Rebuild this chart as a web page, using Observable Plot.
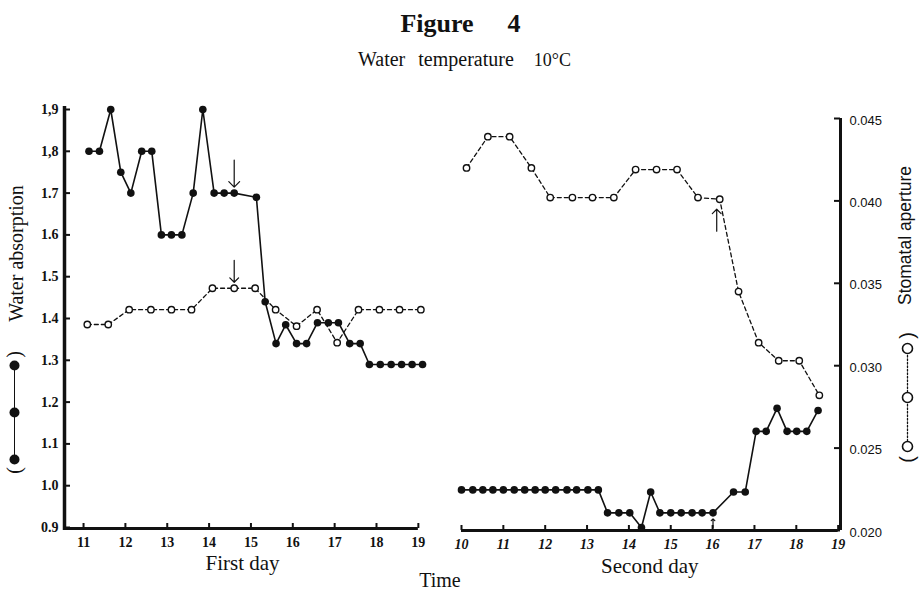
<!DOCTYPE html>
<html><head><meta charset="utf-8">
<script src="https://cdn.jsdelivr.net/npm/d3@7"></script>
<script src="https://cdn.jsdelivr.net/npm/@observablehq/plot@0.6"></script>
<style>
html,body{margin:0;padding:0;background:#fff;}
#wrap{position:relative;width:921px;height:598px;overflow:hidden;font-family:"Liberation Serif",serif;color:#111;}
#title{position:absolute;top:11px;left:0;width:921px;text-align:center;font-weight:bold;font-size:26px;line-height:26px;}
#sub{position:absolute;top:49px;left:4px;width:921px;text-align:center;font-size:20px;line-height:20px;}
#chart{position:absolute;top:76px;left:0;}
</style></head><body>
<div id="wrap">
<div id="title">Figure<span style="margin-left:34px">4</span></div>
<div id="sub"><span style="word-spacing:8px">Water temperature</span><span style="margin-left:20px;font-size:18px">10°C</span></div>
<div id="chart"></div>
</div>
<script>
// ---- data (hours of day, values) ----
const day1WaterHours = [11.13, 11.38, 11.65, 11.89, 12.13, 12.39, 12.63, 12.86, 13.1, 13.35, 13.62, 13.85, 14.12, 14.36, 14.6, 15.13, 15.34, 15.6, 15.83, 16.09, 16.33, 16.59, 16.85, 17.09, 17.36, 17.61, 17.83, 18.09, 18.35, 18.6, 18.85, 19.1];
const day1Water = [1.80, 1.80, 1.90, 1.75, 1.70, 1.80, 1.80, 1.60, 1.60, 1.60, 1.70, 1.90, 1.70, 1.70, 1.70, 1.69, 1.44, 1.34, 1.385, 1.34, 1.34, 1.39, 1.39, 1.39, 1.34, 1.34, 1.29, 1.29, 1.29, 1.29, 1.29, 1.29];
const day1StomHours = [11.09, 11.59, 12.09, 12.61, 13.1, 13.58, 14.08, 14.6, 15.1, 15.59, 16.09, 16.58, 17.06, 17.57, 18.07, 18.55, 19.06];
const day1Stom = [0.0325, 0.0325, 0.0334, 0.0334, 0.0334, 0.0334, 0.0347, 0.0347, 0.0347, 0.0334, 0.0324, 0.0334, 0.0314, 0.0334, 0.0334, 0.0334, 0.0334];
const day2WaterHours = [10.0, 10.27, 10.51, 10.75, 11.0, 11.26, 11.51, 11.76, 12.0, 12.25, 12.52, 12.75, 13.02, 13.27, 13.49, 13.76, 14.02, 14.3, 14.52, 14.74, 15.0, 15.25, 15.51, 15.75, 16.01, 16.5, 16.78, 17.04, 17.28, 17.54, 17.78, 18.01, 18.25, 18.52];
const day2Water = [0.99, 0.99, 0.99, 0.99, 0.99, 0.99, 0.99, 0.99, 0.99, 0.99, 0.99, 0.99, 0.99, 0.99, 0.935, 0.935, 0.935, 0.90, 0.985, 0.935, 0.935, 0.935, 0.935, 0.935, 0.935, 0.985, 0.985, 1.13, 1.13, 1.185, 1.13, 1.13, 1.13, 1.18];
const day2StomHours = [10.12, 10.63, 11.15, 11.67, 12.12, 12.65, 13.13, 13.64, 14.16, 14.66, 15.15, 15.65, 16.17, 16.62, 17.1, 17.58, 18.07, 18.55];
const day2Stom = [0.0420, 0.0439, 0.0439, 0.0420, 0.0402, 0.0402, 0.0402, 0.0402, 0.0419, 0.0419, 0.0419, 0.0402, 0.0401, 0.0345, 0.0314, 0.0303, 0.0303, 0.0282];
const day1TickHours = [11, 12, 13, 14, 15, 16, 17, 18, 19];
const day2TickHours = [10, 11, 12, 13, 14, 15, 16, 17, 18, 19];
const waterTicks = [0.9, 1.0, 1.1, 1.2, 1.3, 1.4, 1.5, 1.6, 1.7, 1.8, 1.9];
const waterTickLabels = ["0.9", "1.0", "1.1", "1.2", "1.3", "1.4", "1.5", "1.6", "1.7", "1,8", "1,9"];
const stomTicks = [0.020, 0.025, 0.030, 0.035, 0.040, 0.045];
const stomTickLabels = ["0.020", "0.025", "0.030", "0.035", "0.040", "0.045"];
const day1ArrowHour = 14.6;        // arrows above both series
const day2StomArrowHour = 16.17;   // arrow below stomatal series
const day2WaterArrowHour = 16.01;  // arrow below water series

// ---- layout ----
const W = 921, H = 522, mL = 64, mR = 81, mT = 33, mB = 71;
const X0 = 10.545, OFF = 10.031, X1 = 29.087;
const PXH = (W - mL - mR) / (X1 - X0);
const PXW = (H - mT - mB) / 1.0;
// stomatal aperture (right axis) expressed in water-absorption units (left axis)
const toW = s => 0.9 + (-3 + (s - 0.02) * 16480) / PXW;
// pixel position (in the svg) -> data units, used for the legend keys outside the frame
const pxX = px => X0 + (px - mL) / PXH;
const pxY = py => 0.9 + (H - mB - py) / PXW;

const rec = (hours, vals, off, conv) => hours.map((h, i) => ({x: h + off, y: conv(vals[i])}));
const id = v => v;
const w1 = rec(day1WaterHours, day1Water, 0, id);
const s1 = rec(day1StomHours, day1Stom, 0, toW);
const w2 = rec(day2WaterHours, day2Water, OFF, id);
const s2 = rec(day2StomHours, day2Stom, OFF, toW);
const stomTickW = stomTicks.map(toW);
const ink = "#111";

// legend keys: three symbols joined by a line, within parentheses
const keyL = {x: 14, yc: 336, step: 47, paren: 58};
const keyR = {x: 907, yc: 321, step: 49, paren: 62};
const keyPts = k => [-1, 0, 1].map(j => ({x: pxX(k.x), y: pxY(k.yc + j * k.step)}));
const keyParens = k => [{x: pxX(k.x), y: pxY(k.yc + k.paren), t: "("}, {x: pxX(k.x), y: pxY(k.yc - k.paren), t: ")"}];

const series = (recs, open) => open
  ? [Plot.line(recs, {x: "x", y: "y", stroke: ink, strokeWidth: 1.3, strokeDasharray: "4,3"}),
     Plot.dot(recs, {x: "x", y: "y", r: 3.2, fill: "white", stroke: ink, strokeWidth: 1.4})]
  : [Plot.line(recs, {x: "x", y: "y", stroke: ink, strokeWidth: 1.6}),
     Plot.dot(recs, {x: "x", y: "y", r: 3.8, fill: ink})];

const chart = Plot.plot({
  width: W, height: H, marginLeft: mL, marginRight: mR, marginTop: mT, marginBottom: mB,
  x: {domain: [X0, X1], axis: null},
  y: {domain: [0.9, 1.9], axis: null},
  style: {fontFamily: "Liberation Serif", color: ink, background: "white", overflow: "visible"},
  marks: [
    // axis lines
    Plot.ruleX([X0], {y1: 0.9 - 3 / PXW, y2: 1.9 + 3 / PXW, stroke: ink, strokeWidth: 3.5}),
    Plot.ruleY([0.9], {x1: X0, x2: 19, stroke: ink, strokeWidth: 3, dy: 1}),
    Plot.ruleY([0.9], {x1: 10 + OFF, x2: 19 + OFF, stroke: ink, strokeWidth: 3, dy: 3}),
    Plot.ruleX([X1], {y1: toW(0.020), y2: toW(0.045), stroke: ink, strokeWidth: 3}),
    // inward ticks
    Plot.ruleY(waterTicks, {x1: X0, x2: X0 + 6 / PXH, stroke: ink, strokeWidth: 2}),
    Plot.ruleY(stomTickW, {x1: X1 - 6 / PXH, x2: X1, stroke: ink, strokeWidth: 2}),
    Plot.ruleX(day1TickHours, {y1: 0.9, y2: 0.9 + 5 / PXW, stroke: ink, strokeWidth: 2, dy: 1}),
    Plot.ruleX(day2TickHours.map(h => h + OFF), {y1: 0.9, y2: 0.9 + 5 / PXW, stroke: ink, strokeWidth: 2, dy: 3}),
    // tick labels
    Plot.axisY(waterTicks, {anchor: "left", tickSize: 0, tickPadding: 6, label: null,
      tickFormat: d => waterTickLabels[waterTicks.indexOf(d)], fontWeight: "bold", fontSize: 14}),
    Plot.axisY(stomTickW, {anchor: "right", tickSize: 0, tickPadding: 9, label: null,
      tickFormat: d => stomTickLabels[stomTickW.indexOf(d)], fontFamily: "Liberation Sans", fontSize: 13, dy: 2}),
    Plot.axisX(day1TickHours, {anchor: "bottom", tickSize: 0, tickPadding: 10, label: null,
      tickFormat: d => String(d), fontWeight: "bold", fontSize: 14}),
    Plot.axisX(day2TickHours.map(h => h + OFF), {anchor: "bottom", tickSize: 0, tickPadding: 12, label: null,
      tickFormat: d => String(Math.round(d - OFF)), fontWeight: "bold", fontStyle: "italic", fontSize: 14}),
    // axis titles
    Plot.text(["First day"], {x: () => 14.8, frameAnchor: "bottom", dy: 42, fontSize: 21}),
    Plot.text(["Second day"], {x: () => 14.5 + OFF, frameAnchor: "bottom", dy: 45, fontSize: 21}),
    Plot.text(["Time"], {x: () => (19 + 10 + OFF) / 2, frameAnchor: "bottom", dy: 59, fontSize: 20}),
    Plot.text(["Water absorption"], {frameAnchor: "left", textAnchor: "middle", dx: -48, dy: -65, rotate: -90, fontSize: 20}),
    Plot.text(["Stomatal aperture"], {frameAnchor: "right", textAnchor: "middle", dx: 65, dy: -83, rotate: -90, fontSize: 17.5, fontFamily: "Liberation Sans"}),
    // legend keys
    Plot.line(keyPts(keyL), {x: "x", y: "y", stroke: ink, strokeWidth: 1}),
    Plot.dot(keyPts(keyL), {x: "x", y: "y", r: 5, fill: ink}),
    Plot.text(keyParens(keyL), {x: "x", y: "y", text: "t", rotate: -90, fontSize: 20}),
    Plot.line(keyPts(keyR), {x: "x", y: "y", stroke: ink, strokeWidth: 1.3, strokeDasharray: "1.5,2"}),
    Plot.dot(keyPts(keyR), {x: "x", y: "y", r: 5, fill: "white", stroke: ink, strokeWidth: 1.6}),
    Plot.text(keyParens(keyR), {x: "x", y: "y", text: "t", rotate: -90, fontSize: 20, fontFamily: "Liberation Sans"}),
    // data
    ...series(s1, true), ...series(w1, false),
    ...series(s2, true), ...series(w2, false),
    // arrows
    Plot.vector([w1[day1WaterHours.indexOf(day1ArrowHour)]], {x: "x", y: "y", length: 27, rotate: 180, anchor: "end", dy: -6, stroke: ink, strokeWidth: 1.2}),
    Plot.vector([s1[day1StomHours.indexOf(day1ArrowHour)]], {x: "x", y: "y", length: 22, rotate: 180, anchor: "end", dy: -6, stroke: ink, strokeWidth: 1.2}),
    Plot.vector([s2[day2StomHours.indexOf(day2StomArrowHour)]], {x: "x", y: "y", length: 22, rotate: 0, anchor: "end", dy: 10, dx: -3, stroke: ink, strokeWidth: 1.2}),
    Plot.vector([w2[day2WaterHours.indexOf(day2WaterArrowHour)]], {x: "x", y: "y", length: 9, rotate: 0, anchor: "end", dy: 6, stroke: ink, strokeWidth: 1.2})
  ]
});
document.getElementById("chart").appendChild(chart);
</script>
</body></html>
